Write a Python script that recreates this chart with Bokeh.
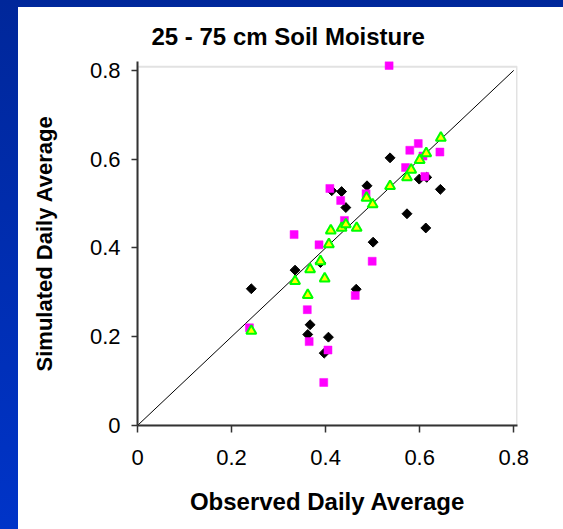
import numpy as np
from bokeh.plotting import figure
from bokeh.models import Range1d, FixedTicker, BoxAnnotation
from bokeh.embed import file_html
from bokeh.resources import INLINE

# ---- data (observed vs simulated daily average soil moisture, 25-75 cm) ----
obs_black = [0.242, 0.335, 0.389, 0.367, 0.362, 0.406, 0.397, 0.413, 0.434, 0.443,
             0.465, 0.488, 0.501, 0.537, 0.573, 0.599, 0.615, 0.613, 0.644]
sim_black = [0.308, 0.350, 0.367, 0.227, 0.205, 0.199, 0.163, 0.529, 0.527, 0.491,
             0.307, 0.540, 0.413, 0.603, 0.477, 0.555, 0.559, 0.445, 0.532]

obs_pink = [0.238, 0.333, 0.361, 0.365, 0.386, 0.396, 0.405, 0.409, 0.432, 0.440,
            0.463, 0.486, 0.499, 0.535, 0.570, 0.579, 0.597, 0.607, 0.611, 0.643]
sim_pink = [0.220, 0.430, 0.261, 0.189, 0.407, 0.097, 0.170, 0.534, 0.507, 0.462,
            0.293, 0.522, 0.370, 0.811, 0.581, 0.620, 0.635, 0.607, 0.561, 0.616]

obs_green = [0.242, 0.335, 0.362, 0.367, 0.389, 0.398, 0.407, 0.411, 0.434, 0.443,
             0.466, 0.487, 0.500, 0.537, 0.573, 0.582, 0.600, 0.614, 0.645]
sim_green = [0.213, 0.325, 0.294, 0.352, 0.370, 0.331, 0.408, 0.439, 0.445, 0.453,
             0.445, 0.513, 0.498, 0.539, 0.559, 0.576, 0.598, 0.613, 0.648]

ticks = [0, 0.2, 0.4, 0.6, 0.8]
one_to_one = [0, 0.8]

title_text = "25 - 75 cm Soil Moisture"
x_title = "Observed Daily Average"
y_title = "Simulated Daily Average"

FONT = "Liberation Sans"

# slide look: blue strips on the left and top, behind a transparent border
slide_bg = ("linear-gradient(to bottom, #00279a, #0034c8) 0 0 / 18px 100% no-repeat, "
            "linear-gradient(#00279a, #00289c) 0 0 / 100% 7px no-repeat")

p = figure(width=563, height=529,
           x_range=Range1d(0, 0.808), y_range=Range1d(0, 0.82),
           output_backend="svg", toolbar_location=None,
           min_border_left=137, min_border_right=46,
           min_border_top=61, min_border_bottom=104,
           background_fill_color="white", border_fill_color=None,
           styles={"background": slide_bg})
p.outline_line_color = None
p.grid.visible = False

# title
p.title.text = title_text
p.title.align = "left"
p.title.offset = 14
p.title.text_font = FONT
p.title.text_font_size = "24px"
p.title.text_font_style = "bold"
p.title.text_color = "black"
p.title.standoff = 23

for ax in (p.xaxis[0], p.yaxis[0]):
    ax.ticker = FixedTicker(ticks=ticks)
    ax.major_label_text_font = FONT
    ax.major_label_text_font_size = "22px"
    ax.major_label_text_color = "black"
    ax.major_tick_in = 0
    ax.minor_tick_line_color = None
    ax.axis_line_width = 2
    ax.axis_line_color = "#333333"
    ax.major_tick_line_color = "#333333"
    ax.major_tick_line_width = 1.5
    ax.axis_label_text_font = FONT
    ax.axis_label_text_font_style = "bold"
    ax.axis_label_text_color = "black"

xa = p.xaxis[0]
xa.major_tick_out = 7
xa.major_label_standoff = 17
xa.axis_label = x_title
xa.axis_label_text_font_size = "24px"
xa.axis_label_standoff = 20

ya = p.yaxis[0]
ya.major_tick_out = 6
ya.major_label_standoff = 11
ya.axis_label = y_title
ya.axis_label_text_font_size = "22px"
ya.axis_label_standoff = 30

# plot-area border (top / right in grey)
p.add_layout(BoxAnnotation(left=0, right=0.807, bottom=0, top=0.808,
                           fill_color=None, line_color="#a0a0a0",
                           line_width=2, level="underlay"))

# 1:1 line
p.line(one_to_one, one_to_one, line_color="black", line_width=1)

# series
p.scatter(obs_black, sim_black, marker="square", angle=np.pi / 4, size=7,
          fill_color="black", line_color="black", line_width=1)
p.scatter(obs_pink, sim_pink, marker="square", size=8,
          fill_color="#ff00ff", line_color="#ff00ff", line_width=0.5)
p.scatter(obs_green, sim_green, marker="triangle", size=10,
          fill_color="#ffff00", line_color="#00ff00", line_width=2)

open("out.html", "w").write(file_html(p, INLINE))
